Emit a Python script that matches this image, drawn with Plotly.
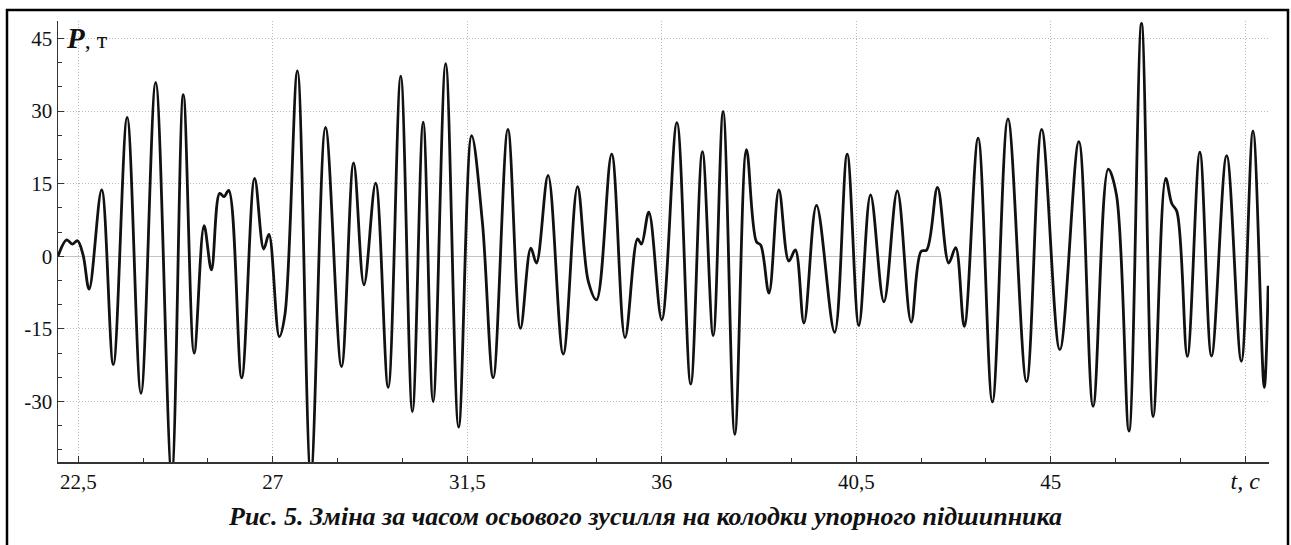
import plotly.graph_objects as go

# time, s
t_values = [22.03, 22.23, 22.36, 22.48, 22.61, 22.75, 23.04, 23.31, 23.63, 23.95,
            24.29, 24.66, 24.93, 25.18, 25.41, 25.58, 25.77, 25.87, 25.98, 26.28,
            26.58, 26.79, 26.91, 27.15, 27.28, 27.57, 27.88, 28.22, 28.59, 28.87,
            29.11, 29.38, 29.67, 29.96, 30.23, 30.48, 30.71, 31.00, 31.30, 31.60,
            31.85, 32.10, 32.44, 32.73, 32.97, 33.10, 33.37, 33.72, 34.05, 34.30,
            34.49, 34.84, 35.15, 35.44, 35.53, 35.70, 36.00, 36.35, 36.67, 36.94,
            37.19, 37.42, 37.69, 37.96, 38.19, 38.29, 38.48, 38.71, 38.94, 39.09,
            39.29, 39.58, 40.00, 40.29, 40.56, 40.83, 41.14, 41.45, 41.77, 42.00,
            42.13, 42.38, 42.64, 42.80, 43.00, 43.32, 43.65, 44.01, 44.44, 44.79,
            45.21, 45.65, 45.98, 46.33, 46.52, 46.81, 47.10, 47.37, 47.66, 47.80,
            47.92, 48.16, 48.45, 48.72, 49.07, 49.41, 49.68, 49.94, 50.03]
# axial force, t
p_values = [0.0, 3.4, 2.5, 3.2, 0.3, -6.8, 13.7, -22.4, 28.7, -28.3,
            35.9, -45.0, 33.4, -20.0, 6.3, -2.8, 13.0, 12.3, 13.6, -25.1,
            16.1, 1.5, 4.5, -16.6, -12.1, 38.3, -45.0, 26.6, -22.8, 19.3,
            -5.9, 15.1, -27.1, 37.2, -32.1, 27.7, -30.0, 39.8, -35.3, 24.9,
            7.0, -25.1, 26.2, -14.9, 1.7, -1.4, 16.7, -20.2, 14.4, -5.2,
            -9.0, 21.1, -16.8, 3.6, 2.5, 9.1, -13.1, 27.6, -26.4, 21.6,
            -16.4, 29.9, -36.8, 22.0, 3.0, 2.3, -7.6, 13.7, -1.0, 1.3,
            -13.8, 10.5, -15.7, 21.1, -14.3, 12.7, -9.4, 13.5, -13.6, 1.0,
            1.3, 14.2, -1.4, 1.8, -14.5, 24.4, -30.1, 28.4, -25.9, 26.2,
            -19.3, 23.7, -31.0, 18.0, 12.7, -36.1, 48.1, -33.1, 16.1, 10.9,
            9.2, -20.7, 21.5, -20.6, 20.8, -21.7, 25.9, -27.1, -6.1]

x_tickvals = [22.5, 27, 31.5, 36, 40.5, 45, 49.5]
x_ticktext = ["22,5", "27", "31,5", "36", "40,5", "45",
              "<span style='font-size:24px'><i>t, c</i></span>"]
y_tickvals = [-30, -15, 0, 15, 30, 45]
y_ticktext = ["-30", "-15", "0", "15", "30", "45"]

caption = "Рис. 5. Зміна за часом осьового зусилля на колодки упорного підшипника"
y_label = "<span style='font-size:29px'><b><i>P</i></b></span>, т"

serif = "Liberation Serif, Times New Roman, serif"

fig = go.Figure()
fig.add_trace(go.Scatter(
    x=t_values, y=p_values, mode="lines",
    line=dict(color="#111111", width=2.8, shape="spline", smoothing=1.0),
    hoverinfo="skip", showlegend=False,
))

fig.update_layout(
    width=1291, height=545,
    margin=dict(l=58, r=22, t=21, b=83, autoexpand=False),
    paper_bgcolor="white", plot_bgcolor="white",
    font=dict(family=serif, size=21, color="#111111"),
    showlegend=False,
    hovermode=False,
    xaxis=dict(
        range=[22.03, 50.05], tickvals=x_tickvals, ticktext=x_ticktext,
        ticks="inside", ticklen=6, tickcolor="#333333", tickwidth=1,
        showline=True, linecolor="#333333", linewidth=1.5,
        showgrid=True, gridcolor="#b8b8b8", griddash="1px,2px", gridwidth=1,
        zeroline=False, automargin=False,
        minor=dict(dtick=1.5, tick0=22.5, ticks="inside", ticklen=4,
                   tickcolor="#333333", showgrid=False),
        tickfont=dict(family=serif, size=21, color="#111111"),
    ),
    yaxis=dict(
        range=[-42.5, 48.6], tickvals=y_tickvals, ticktext=y_ticktext,
        ticks="inside", ticklen=6, tickcolor="#333333", tickwidth=1,
        showline=True, linecolor="#333333", linewidth=1.5,
        showgrid=True, gridcolor="#b8b8b8", griddash="1px,2px", gridwidth=1,
        zeroline=True, zerolinecolor="#c4c4c4", zerolinewidth=1.5,
        automargin=False,
        minor=dict(dtick=5, tick0=0, ticks="inside", ticklen=4,
                   tickcolor="#333333", showgrid=False),
        tickfont=dict(family=serif, size=21, color="#111111"),
    ),
)

# y-axis label inside plot at top-left
fig.add_annotation(
    x=0.005, y=45, xref="paper", yref="y", text=y_label,
    showarrow=False, xanchor="left", yanchor="middle",
    font=dict(family=serif, size=24, color="#111111"),
)

# caption
fig.add_annotation(
    x=0.4847, y=-0.1247, xref="paper", yref="paper", text="<b><i>" + caption + "</i></b>",
    showarrow=False, xanchor="center", yanchor="middle",
    font=dict(family=serif, size=26, color="#111111"),
)

# outer frame
fig.add_shape(
    type="rect", xref="paper", yref="paper",
    x0=(7 - 58) / 1211, x1=(1288 - 58) / 1211,
    y0=(462 - 600) / 441, y1=(462 - 10) / 441,
    line=dict(color="black", width=2.5), fillcolor="rgba(0,0,0,0)",
    layer="above",
)

fig.write_html(
    "out.html",
    config={"displayModeBar": False, "staticPlot": True},
    post_script="document.body.style.margin='0';document.body.style.overflow='hidden';",
)
